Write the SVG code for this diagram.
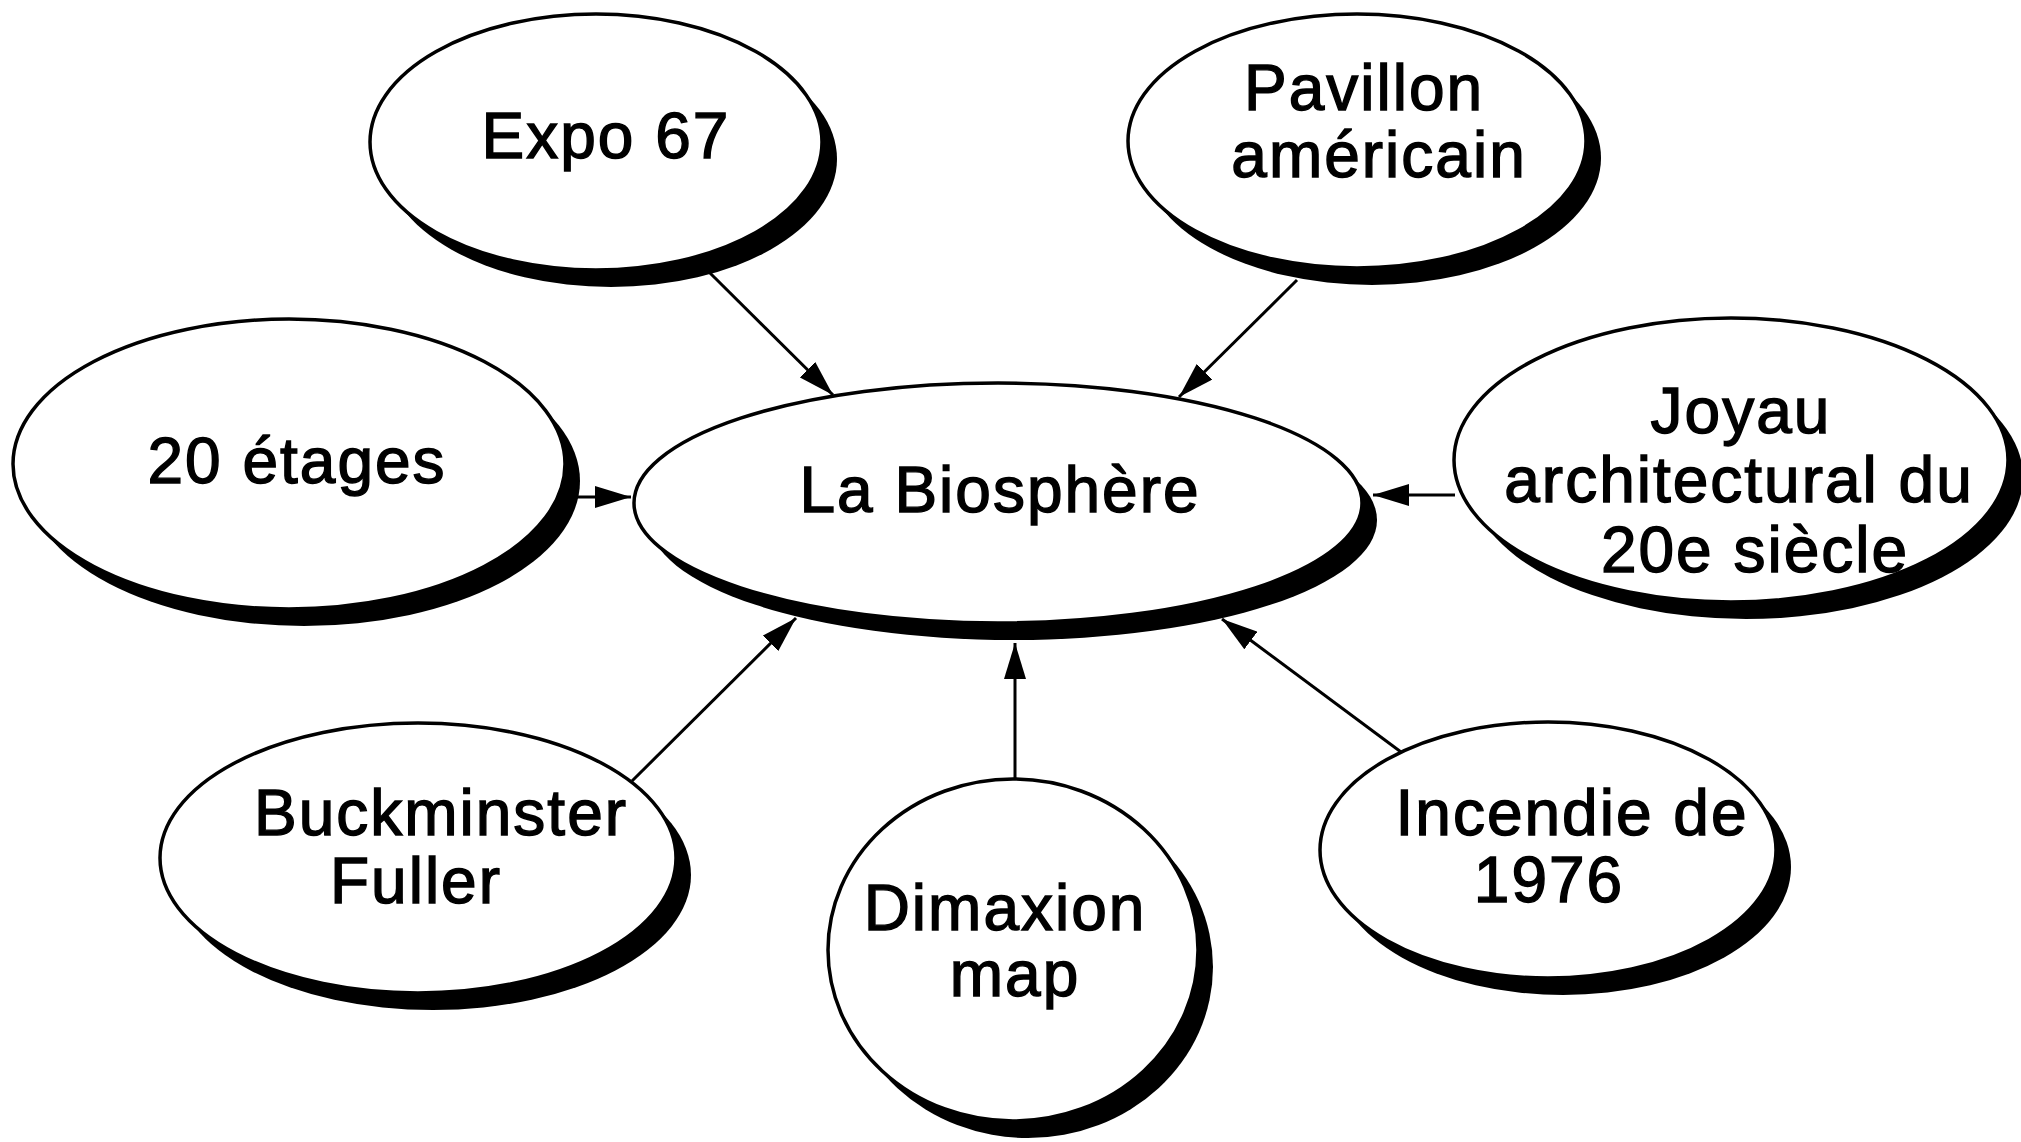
<svg xmlns="http://www.w3.org/2000/svg" width="2021" height="1142" viewBox="0 0 2021 1142">
<style>
.sh{fill:#000;stroke:none}
.el{fill:#fff;stroke:#000;stroke-width:3.5}
.t{font-family:"Liberation Sans",Arial,Helvetica,sans-serif;font-size:64px;letter-spacing:2px;fill:#000;stroke:#000;stroke-width:1.4;text-anchor:middle}
.c{stroke:#000;stroke-width:3;fill:none;marker-end:url(#ah)}
</style>
<defs>
<marker id="ah" viewBox="0 0 36 22" refX="36" refY="11" markerWidth="36" markerHeight="22" markerUnits="userSpaceOnUse" orient="auto">
<path d="M0,0 L36,11 L0,22 Z" fill="#000"/>
</marker>
</defs>
<rect width="2021" height="1142" fill="#fff"/>
<g id="connectors">
<line class="c" x1="710" y1="273" x2="833" y2="395"/>
<line class="c" x1="1297" y1="280" x2="1179" y2="397"/>
<line class="c" x1="1455" y1="495" x2="1373" y2="495"/>
<line class="c" x1="576" y1="497" x2="631" y2="497"/>
<line class="c" x1="632" y1="781" x2="796" y2="618"/>
<line class="c" x1="1015" y1="779" x2="1015" y2="643"/>
<line class="c" x1="1401" y1="752" x2="1222" y2="619"/>
</g>
<g id="biosphere">
<ellipse class="sh" cx="1013" cy="520" rx="364" ry="120"/>
<ellipse class="el" cx="998" cy="503" rx="364" ry="120"/>
<text class="t" x="1000" y="512">La Biosphère</text>
</g>
<g id="expo67">
<ellipse class="sh" cx="611" cy="159" rx="226" ry="128"/>
<ellipse class="el" cx="596" cy="142" rx="226" ry="128"/>
<text class="t" x="606" y="158">Expo 67</text>
</g>
<g id="pavillon">
<ellipse class="sh" cx="1372" cy="158" rx="229" ry="127"/>
<ellipse class="el" cx="1357" cy="141" rx="229" ry="127"/>
<text class="t" x="1364" y="110">Pavillon</text>
<text class="t" x="1379" y="177">américain</text>
</g>
<g id="joyau">
<ellipse class="sh" cx="1746" cy="477" rx="277" ry="142"/>
<ellipse class="el" cx="1731" cy="460" rx="277" ry="142"/>
<text class="t" x="1741" y="433">Joyau</text>
<text class="t" x="1739" y="502">architectural du</text>
<text class="t" x="1755" y="572">20e siècle</text>
</g>
<g id="etages">
<ellipse class="sh" cx="304" cy="481" rx="276" ry="145"/>
<ellipse class="el" cx="289" cy="464" rx="276" ry="145"/>
<text class="t" x="297" y="483">20 étages</text>
</g>
<g id="buckminster">
<ellipse class="sh" cx="433" cy="875" rx="258" ry="135"/>
<ellipse class="el" cx="418" cy="858" rx="258" ry="135"/>
<text class="t" x="441" y="835">Buckminster</text>
<text class="t" x="416" y="903">Fuller</text>
</g>
<g id="dimaxion">
<ellipse class="sh" cx="1028" cy="967" rx="185" ry="171"/>
<ellipse class="el" cx="1013" cy="950" rx="185" ry="171"/>
<text class="t" x="1005" y="930">Dimaxion</text>
<text class="t" x="1015" y="996">map</text>
</g>
<g id="incendie">
<ellipse class="sh" cx="1563" cy="867" rx="228" ry="128"/>
<ellipse class="el" cx="1548" cy="850" rx="228" ry="128"/>
<text class="t" x="1572" y="835">Incendie de</text>
<text class="t" x="1549" y="902">1976</text>
</g>
</svg>
